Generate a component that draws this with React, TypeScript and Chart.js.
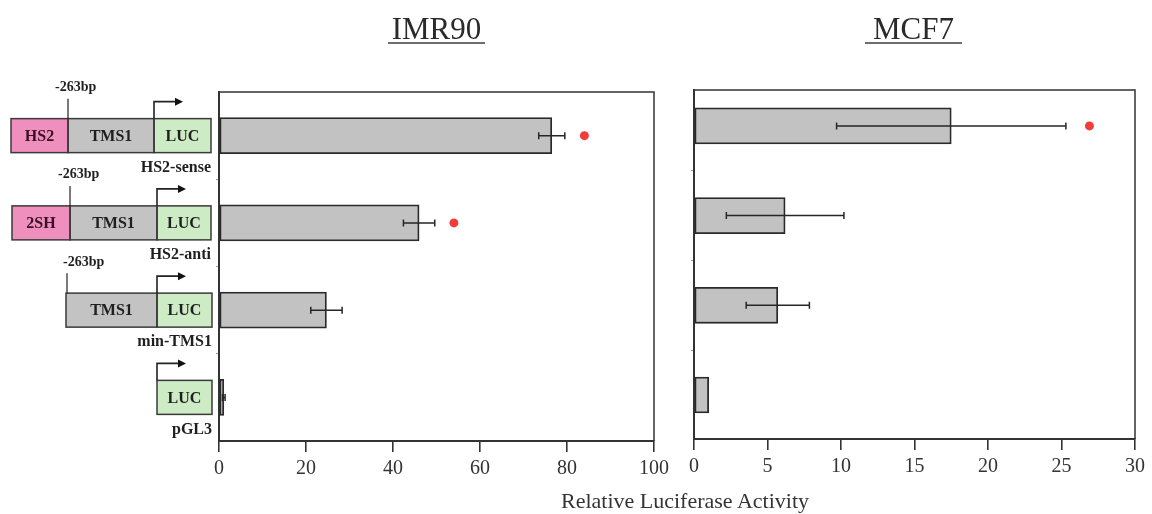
import React, { useEffect, useRef } from 'react';
import { Chart, registerables } from 'chart.js';

Chart.register(...registerables);

// ---------- data ----------
const categories = ['HS2-sense', 'HS2-anti', 'min-TMS1', 'pGL3'];

const imr90Values = [76.5, 46.0, 24.7, 1.1];
const imr90Errors = [3.0, 3.6, 3.6, 0.3];
const imr90Significance: (number | null)[] = [84, 54, null, null];
const imr90Ticks = [0, 20, 40, 60, 80, 100];

const mcf7Values = [17.5, 6.2, 5.7, 1.0];
const mcf7Errors = [7.8, 4.0, 2.15, 0];
const mcf7Significance: (number | null)[] = [26.9, null, null, null];
const mcf7Ticks = [0, 5, 10, 15, 20, 25, 30];

const xAxisTitle = 'Relative Luciferase Activity';
const panelTitles = ['IMR90', 'MCF7'];
const bpLabel = '-263bp';

// ---------- styles ----------
const FONT = "'Liberation Serif', 'Times New Roman', serif";
const BAR_FILL = '#c2c2c2';
const BAR_EDGE = '#2a2a2a';
const PINK = '#ee8fbd';
const GRAY = '#c3c3c3';
const GREEN = '#cdebc4';
const RED = '#f23c3c';
const INK = '#262626';
const X_AXIS_BOX = 50;

const constructLayout = [
  { parts: [{ t: 'HS2', x0: 11, x1: 68, c: PINK }, { t: 'TMS1', x0: 68, x1: 154, c: GRAY }, { t: 'LUC', x0: 154, x1: 211, c: GREEN }], bp: 68, bpText: 55, arrow: 154, nameX: 211 },
  { parts: [{ t: '2SH', x0: 12, x1: 70, c: PINK }, { t: 'TMS1', x0: 70, x1: 157, c: GRAY }, { t: 'LUC', x0: 157, x1: 211, c: GREEN }], bp: 70, bpText: 58, arrow: 157, nameX: 211 },
  { parts: [{ t: 'TMS1', x0: 66, x1: 157, c: GRAY }, { t: 'LUC', x0: 157, x1: 212, c: GREEN }], bp: 67, bpText: 63, arrow: 157, nameX: 212 },
  { parts: [{ t: 'LUC', x0: 157, x1: 212, c: GREEN }], bp: null as number | null, bpText: 0, arrow: 157, nameX: 212 },
];

function errorPlugin(values: number[], errors: number[]) {
  return {
    id: 'errorBars',
    afterDatasetsDraw(chart: any) {
      const ctx = chart.ctx;
      const meta = chart.getDatasetMeta(0);
      const xs = chart.scales.x;
      ctx.save();
      ctx.strokeStyle = INK;
      ctx.lineWidth = 1.5;
      meta.data.forEach((el: any, i: number) => {
        const e = errors[i];
        if (!e) return;
        const y = el.y;
        const x1 = xs.getPixelForValue(values[i] - e);
        const x2 = xs.getPixelForValue(values[i] + e);
        ctx.beginPath();
        ctx.moveTo(x1, y);
        ctx.lineTo(x2, y);
        ctx.moveTo(x1, y - 3.5);
        ctx.lineTo(x1, y + 3.5);
        ctx.moveTo(x2, y - 3.5);
        ctx.lineTo(x2, y + 3.5);
        ctx.stroke();
      });
      ctx.restore();
    },
  };
}

const framePlugin = {
  id: 'frame',
  afterDraw(chart: any) {
    const { ctx, chartArea: a } = chart;
    ctx.save();
    ctx.strokeStyle = '#333';
    ctx.lineWidth = 1.5;
    ctx.beginPath();
    ctx.moveTo(a.left, a.top);
    ctx.lineTo(a.right, a.top);
    ctx.lineTo(a.right, a.bottom);
    ctx.stroke();
    ctx.restore();
  },
};

const constructPlugin = {
  id: 'constructs',
  afterDraw(chart: any) {
    const ctx = chart.ctx;
    const ys = chart.scales.y;
    ctx.save();
    constructLayout.forEach((row, i) => {
      const yc = ys.getPixelForValue(i);
      const top = yc - 17;
      const h = 34;
      row.parts.forEach((p) => {
        ctx.fillStyle = p.c;
        ctx.fillRect(p.x0, top, p.x1 - p.x0, h);
      });
      ctx.strokeStyle = '#3a3a3a';
      ctx.lineWidth = 1.5;
      row.parts.forEach((p) => {
        ctx.strokeRect(p.x0, top, p.x1 - p.x0, h);
      });
      ctx.font = `bold 16px ${FONT}`;
      ctx.textAlign = 'center';
      ctx.textBaseline = 'middle';
      row.parts.forEach((p) => {
        ctx.fillStyle = p.c === PINK ? '#3a0f24' : '#1f1f1f';
        ctx.fillText(p.t, (p.x0 + p.x1) / 2, yc + 1);
      });
      // -263bp marker
      ctx.strokeStyle = '#222';
      ctx.lineWidth = 1.2;
      if (row.bp !== null) {
        ctx.beginPath();
        ctx.moveTo(row.bp, top);
        ctx.lineTo(row.bp, yc - 37);
        ctx.stroke();
        ctx.fillStyle = '#1f1f1f';
        ctx.font = `bold 14px ${FONT}`;
        ctx.textAlign = 'left';
        ctx.fillText(bpLabel, row.bpText, yc - 48);
      }
      // transcription arrow
      ctx.lineWidth = 1.6;
      ctx.beginPath();
      ctx.moveTo(row.arrow, top);
      ctx.lineTo(row.arrow, top - 17);
      ctx.lineTo(row.arrow + 22, top - 17);
      ctx.stroke();
      ctx.fillStyle = '#111';
      ctx.beginPath();
      ctx.moveTo(row.arrow + 29, top - 17);
      ctx.lineTo(row.arrow + 21, top - 21);
      ctx.lineTo(row.arrow + 21, top - 13);
      ctx.closePath();
      ctx.fill();
      // construct name
      ctx.fillStyle = '#1f1f1f';
      ctx.font = `bold 16px ${FONT}`;
      ctx.textAlign = 'right';
      ctx.fillText(categories[i], row.nameX, yc + 32);
    });
    ctx.restore();
  },
};

function makeConfig(
  values: number[],
  errors: number[],
  sig: (number | null)[],
  ticks: number[],
  yMin: number,
  yMax: number,
  padding: any,
  extraPlugins: any[],
): any {
  const barData = values.map((v, i) => ({ x: v, y: i }));
  const sigData = sig
    .map((v, i) => (v === null ? null : { x: v, y: i }))
    .filter((p) => p !== null);
  return {
    type: 'bar',
    data: {
      datasets: [
        {
          type: 'bar',
          label: 'activity',
          data: barData,
          backgroundColor: BAR_FILL,
          borderColor: BAR_EDGE,
          borderWidth: 1.8,
          borderSkipped: false,
          barThickness: 36,
        },
        {
          type: 'scatter',
          label: 'significant',
          data: sigData,
          pointRadius: 4.5,
          pointBackgroundColor: RED,
          pointBorderWidth: 0,
          showLine: false,
        },
      ],
    },
    options: {
      indexAxis: 'y',
      responsive: false,
      animation: false,
      layout: { padding },
      plugins: { legend: { display: false }, tooltip: { enabled: false }, title: { display: false } },
      scales: {
        x: {
          type: 'linear',
          position: 'bottom',
          offset: false,
          min: ticks[0],
          max: ticks[ticks.length - 1],
          afterBuildTicks: (s: any) => {
            s.ticks = ticks.map((v) => ({ value: v }));
          },
          afterFit: (s: any) => {
            s.height = X_AXIS_BOX;
          },
          ticks: {
            font: { family: FONT, size: 20 },
            color: '#333',
            padding: 5,
            maxRotation: 0,
            autoSkip: false,
          },
          grid: {
            display: true,
            offset: false,
            drawOnChartArea: false,
            drawTicks: true,
            tickLength: 11,
            color: '#333',
            lineWidth: 1.6,
          },
          border: { display: true, color: '#333', width: 2 },
        },
        y: {
          type: 'linear',
          position: 'left',
          offset: false,
          reverse: true,
          min: yMin,
          max: yMax,
          afterBuildTicks: (s: any) => {
            s.ticks = [0.5, 1.5, 2.5].map((v) => ({ value: v }));
          },
          afterFit: (s: any) => {
            s.width = 0;
          },
          ticks: { display: false },
          grid: {
            display: true,
            offset: false,
            drawOnChartArea: false,
            drawTicks: true,
            tickLength: 3,
            color: '#999',
            lineWidth: 1,
          },
          border: { display: true, color: '#333', width: 2 },
        },
      },
    },
    plugins: [errorPlugin(values, errors), framePlugin, ...extraPlugins],
  };
}

function Panel(props: { left: number; width: number; config: any }) {
  const ref = useRef<HTMLCanvasElement | null>(null);
  useEffect(() => {
    if (!ref.current) return;
    const chart = new Chart(ref.current, props.config);
    return () => chart.destroy();
  }, []);
  return (
    <canvas
      ref={ref}
      width={props.width}
      height={514}
      style={{ position: 'absolute', left: props.left, top: 0, width: props.width, height: 514 }}
    />
  );
}

function Title(props: { text: string; left: number; width: number }) {
  return (
    <div style={{ position: 'absolute', left: props.left, top: 13, width: props.width }}>
      <div
        style={{
          textAlign: 'center',
          fontFamily: FONT,
          fontSize: 31,
          lineHeight: '31px',
          height: 31,
          color: '#2a2a2a',
          whiteSpace: 'nowrap',
        }}
      >
        {props.text}
      </div>
      <div style={{ position: 'absolute', left: 0, top: 29, width: props.width, height: 2, background: '#6e6e6e' }} />
    </div>
  );
}

export default function App() {
  const imrConfig = makeConfig(
    imr90Values, imr90Errors, imr90Significance, imr90Ticks,
    -0.5, 3.5,
    { left: 219, right: 24, top: 92, bottom: 73 - X_AXIS_BOX },
    [constructPlugin],
  );
  const mcfConfig = makeConfig(
    mcf7Values, mcf7Errors, mcf7Significance, mcf7Ticks,
    -0.4, 3.49,
    { left: 24, right: 17, top: 90, bottom: 75 - X_AXIS_BOX },
    [],
  );
  return (
    <div style={{ position: 'absolute', left: 0, top: 0, width: 1152, height: 514, background: '#fff', overflow: 'hidden' }}>
      <Panel left={0} width={678} config={imrConfig} />
      <Panel left={670} width={482} config={mcfConfig} />
      <Title text={panelTitles[0]} left={388} width={97} />
      <Title text={panelTitles[1]} left={865} width={97} />
      <div
        style={{
          position: 'absolute',
          left: 485,
          width: 400,
          top: 489,
          textAlign: 'center',
          fontFamily: FONT,
          fontSize: 22,
          lineHeight: '24px',
          color: '#333',
          whiteSpace: 'nowrap',
        }}
      >
        {xAxisTitle}
      </div>
    </div>
  );
}
